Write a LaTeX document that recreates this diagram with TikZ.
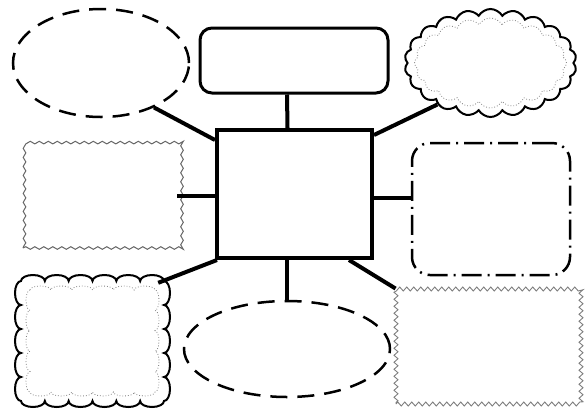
\documentclass[tikz,border=0pt]{standalone}
\usetikzlibrary{shapes.symbols,shapes.geometric,decorations.pathmorphing}
\begin{document}
\begin{tikzpicture}[x=1pt,y=-1pt,
  conn/.style={line width=4pt},
  hub/.style={draw,line width=4pt,minimum width=155pt,minimum height=128pt,inner sep=0pt},
  topbox/.style={draw,line width=3pt,rounded corners=12pt,minimum width=188pt,minimum height=65pt,inner sep=0pt},
  dashell/.style={draw,ellipse,line width=2.5pt,dash pattern=on 17pt off 10pt,inner sep=0pt},
  puffy/.style={draw,cloud,line width=2pt,cloud puffs=22,cloud puff arc=120,inner sep=0pt},
  puffyin/.style={draw=gray,cloud,line width=0.8pt,dotted,cloud puffs=20,cloud puff arc=120,inner sep=0pt},
  stamp/.style={draw=gray!80!black,line width=1pt,decorate,decoration={snake,segment length=9pt,amplitude=1.3pt},minimum width=159pt,minimum height=105pt,inner sep=0pt},
  zig/.style={draw=gray,line width=0.9pt,decorate,decoration={zigzag,segment length=7pt,amplitude=2pt},minimum width=185pt,minimum height=115pt,inner sep=0pt},
  dashdot/.style={draw,line width=2.5pt,rounded corners=18pt,dash pattern=on 20pt off 6pt on 2pt off 6pt,minimum width=158pt,minimum height=132pt,inner sep=0pt},
  scal/.style={line width=2pt},
  scalin/.style={draw=gray,line width=0.8pt,dotted}
]
\useasboundingbox (0,0) rectangle (586,408);
\fill[white] (0,0) rectangle (586,408);

\node[hub] (c) at (294.5,194) {};
\node[topbox] (t) at (294,60.5) {};
\node[dashell,minimum width=176pt,minimum height=108pt] (tl) at (101,63) {};
\node[puffy,minimum width=172pt,minimum height=108pt] (tr) at (490.5,63) {};
\node[puffyin,minimum width=152pt,minimum height=90pt] (trin) at (490.5,63) {};
\node[stamp] (ml) at (102.5,195.5) {};
\node[dashdot] (mr) at (491,209) {};
\node[dashell,minimum width=206pt,minimum height=96pt] (bm) at (287,349) {};
\node[zig] (br) at (488.5,346.5) {};
\node[minimum width=143pt,minimum height=120pt,inner sep=0pt] (bl) at (92.5,341) {};

% scalloped rectangle bottom-left (outer)
\draw[scal] (21,281)
  \foreach \i in {1,...,6} { arc[start angle=180,end angle=360,x radius=11.917,y radius=6] }
  \foreach \i in {1,...,5} { arc[start angle=270,end angle=450,x radius=6,y radius=12] }
  \foreach \i in {1,...,6} { arc[start angle=0,end angle=180,x radius=11.917,y radius=6] }
  \foreach \i in {1,...,5} { arc[start angle=90,end angle=270,x radius=6,y radius=12] } -- cycle;
% inner dotted
\draw[scalin] (30,290)
  \foreach \i in {1,...,6} { arc[start angle=180,end angle=360,x radius=10.417,y radius=4] }
  \foreach \i in {1,...,5} { arc[start angle=270,end angle=450,x radius=4,y radius=10.2] }
  \foreach \i in {1,...,6} { arc[start angle=0,end angle=180,x radius=10.417,y radius=4] }
  \foreach \i in {1,...,5} { arc[start angle=90,end angle=270,x radius=4,y radius=10.2] } -- cycle;

% connectors
\draw[conn] ([xshift=-7pt]t.south) -- ([xshift=-7pt]c.north);
\draw[conn] ([xshift=-7.5pt]c.south) -- (bm.north);
\draw[conn] (tl.-40) -- ([yshift=-12pt]c.north west);
\draw[conn] ([yshift=-7pt]c.north east) -- (tr.218);
\draw[conn] ([yshift=-2pt]c.west) -- ([yshift=-2pt,xshift=-6pt]c.west -| ml.east);
\draw[conn] ([yshift=-4pt]c.east) -- ([yshift=-4pt]c.east -| mr.west);
\draw[conn] ([xshift=2pt]c.south west) -- ([xshift=-6pt,yshift=-2pt]bl.north east);
\draw[conn] ([xshift=-25pt]c.south east) -- (br.north west);
\end{tikzpicture}
\end{document}
